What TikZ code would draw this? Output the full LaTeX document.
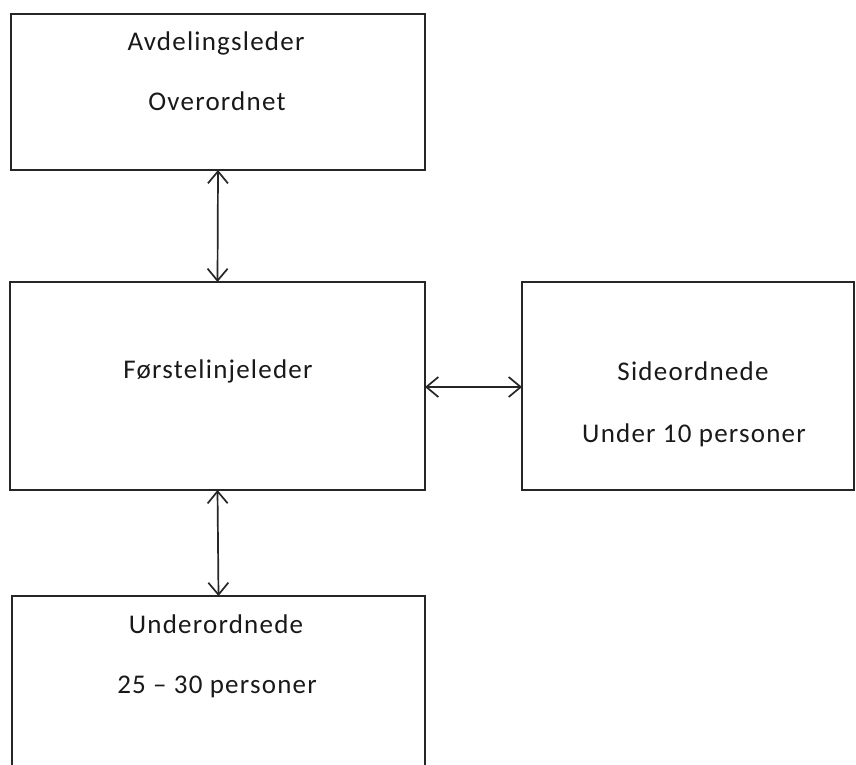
\documentclass[tikz,border=0pt]{standalone}
\usepackage{fontspec}
\setmainfont{Carlito}[LetterSpace=4.5]
\usetikzlibrary{arrows.meta}
\begin{document}
\begin{tikzpicture}[x=1pt,y=-1pt,
  box/.style={draw=black!85,line width=2pt,inner sep=0pt,outer sep=0pt},
  lbl/.style={anchor=base,inner sep=0pt,font=\fontsize{27}{30}\selectfont,text=black!90},
  conn/.style={draw=black!85,line width=1.7pt,{Straight Barb[length=12pt,width=20pt,line width=1.7pt]}-{Straight Barb[length=12pt,width=20pt,line width=1.7pt]}}]
\useasboundingbox (0,0) rectangle (856,765);
\clip (0,0) rectangle (856,765);
\node[box,minimum width=414pt,minimum height=156pt] (top) at (218,92) {};
\node[box,minimum width=415pt,minimum height=208pt] (mid) at (217.5,386) {};
\node[box,minimum width=332pt,minimum height=208pt] (side) at (688,386) {};
\node[box,minimum width=413pt,minimum height=220pt] (bot) at (218.5,706) {};
\node[lbl] (t1) at (216,51) {Avdelingsleder};
\node[lbl] (t2) at (217,111) {Overordnet};
\node[lbl] (m1) at (218,378) {Førstelinjeleder};
\node[lbl] (s1) at (693,380) {Sideordnede};
\node[lbl] (s2) at (694,442) {Under 10 personer};
\node[lbl] (b1) at (216,633) {Underordnede};
\node[lbl] (b2) at (217,693) {25 – 30 personer};
\draw[conn] (top.south) -- (mid.north);
\draw[conn] (mid.south) -- (bot.north);
\draw[conn] (mid.east |- 0,387) -- (side.west |- 0,387);
\end{tikzpicture}
\end{document}
